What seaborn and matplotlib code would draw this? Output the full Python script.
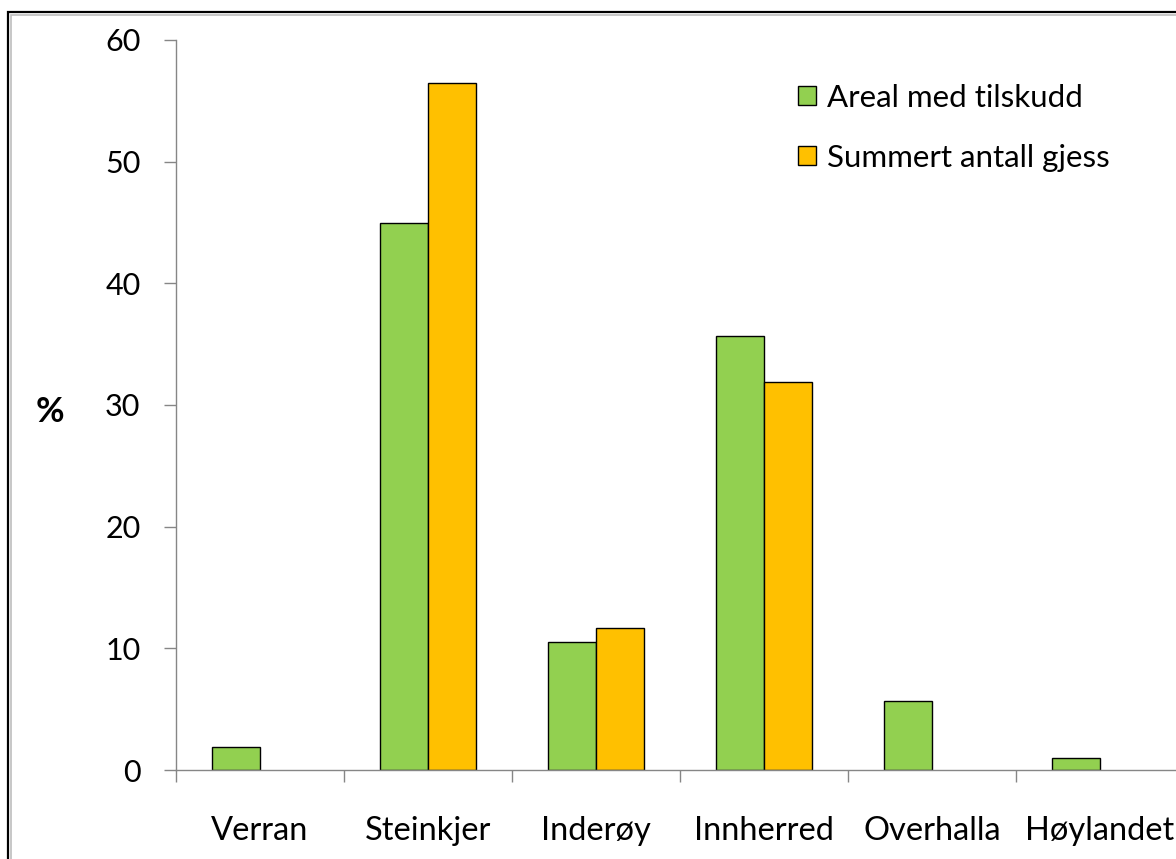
import numpy as np
import pandas as pd
import matplotlib
matplotlib.use("Agg")
import matplotlib.pyplot as plt
from matplotlib.patches import Rectangle
import seaborn as sns

# Andel (%) per kommune for de to seriene
kommuner = ["Verran", "Steinkjer", "Inderøy", "Innherred", "Overhalla", "Høylandet"]
areal_med_tilskudd = [1.9, 45.0, 10.5, 35.7, 5.7, 1.0]
summert_antall_gjess = [np.nan, 56.5, 11.7, 31.9, np.nan, np.nan]
serier = ["Areal med tilskudd", "Summert antall gjess"]
farger = ["#92D050", "#FFC000"]
y_ticks = [0, 10, 20, 30, 40, 50, 60]

df = pd.DataFrame({
    "kommune": kommuner * 2,
    "serie": [serier[0]] * len(kommuner) + [serier[1]] * len(kommuner),
    "prosent": areal_med_tilskudd + summert_antall_gjess,
})

sns.set_theme(style="white")
plt.rcParams["font.family"] = ["Lato", "DejaVu Sans"]
plt.rcParams["text.color"] = "black"

W, H = 1176, 859
fig = plt.figure(figsize=(W / 100, H / 100), dpi=100)
fig.patch.set_facecolor("white")
ax = fig.add_axes([176 / W, (H - 770) / H, 1008 / W, 730 / H])

sns.barplot(
    data=df, x="kommune", y="prosent", hue="serie",
    order=kommuner, hue_order=serier, palette=farger,
    width=0.575, saturation=1, errorbar=None,
    edgecolor="black", linewidth=1.0, ax=ax,
)

axis_grey = "#868686"
ax.set_xlim(-0.5, 5.5)
ax.set_ylim(0, 60)
ax.set_yticks(y_ticks)
ax.set_xlabel("")
ax.set_ylabel("")
for side in ("top", "right"):
    ax.spines[side].set_visible(False)
for side in ("left", "bottom"):
    ax.spines[side].set_color(axis_grey)
    ax.spines[side].set_linewidth(1.0)

# kategori-skiller som små streker under x-aksen
ax.set_xticks(np.arange(-0.5, 5.0, 1.0), minor=True)
ax.tick_params(axis="x", which="major", bottom=True, length=0, pad=33,
               labelsize=23.5, labelcolor="black")
ax.tick_params(axis="x", which="minor", bottom=True, length=8.6, width=1.0,
               color=axis_grey, direction="out")
ax.tick_params(axis="y", which="major", left=True, length=8.6, width=1.0,
               color=axis_grey, direction="out", pad=17,
               labelsize=22, labelcolor="black")

fig.text(50 / W, 1 - 412 / H, "%", fontsize=25, fontweight="bold",
         ha="center", va="center")

old = ax.get_legend()
handles = old.legend_handles
labels = [t.get_text() for t in old.texts]
old.remove()
ax.legend(handles, labels, loc="upper left",
          bbox_to_anchor=(798 / W, 1 - 84 / H), bbox_transform=fig.transFigure,
          frameon=False, fontsize=22.5, handlelength=0.56, handleheight=0.56,
          handletextpad=0.38, labelspacing=1.02, borderpad=0, borderaxespad=0)

# ramme rundt diagrammet
fig.add_artist(Rectangle((8 / W, -0.2), 1.5, 1.2 - 12 / H,
                         transform=fig.transFigure, fill=False,
                         edgecolor="black", linewidth=1.6))
fig.add_artist(Rectangle((10.5 / W, -0.2), 1.5, 1.2 - 14.5 / H,
                         transform=fig.transFigure, fill=False,
                         edgecolor="#bdbdbd", linewidth=1.2))

fig.savefig("out.png", dpi=100)
